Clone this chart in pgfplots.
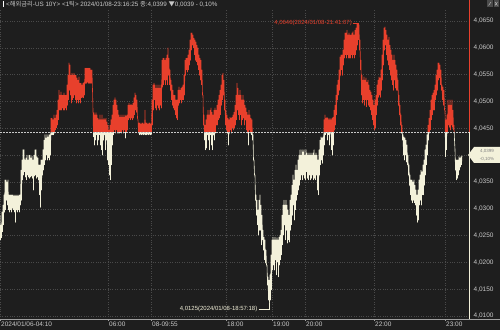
\documentclass[border=0pt]{standalone}
\usepackage{fontspec}
\setmainfont{Liberation Sans}
\newfontfamily\kr{Noto Sans CJK KR}
\usepackage{pgfplots}
\usepackage{pgfplotstable}
\pgfplotsset{compat=1.18}
\definecolor{bg}{HTML}{1E1E1E}
\definecolor{upred}{HTML}{E8402C}
\definecolor{cream}{HTML}{F3F1DA}
\definecolor{gridc}{HTML}{4A4A4A}
\definecolor{txt}{HTML}{C8C8C8}
\definecolor{axln}{HTML}{A0A0A0}

\pgfplotstableread[row sep=\\]{x y\\
0 4.0288\\0.5 4.0242\\1 4.0270\\1.5 4.0246\\2 4.0294\\2.5 4.0257\\3 4.0307\\3.5 4.0270\\4 4.0326\\4.5 4.0294\\
5 4.0354\\5.5 4.0298\\6 4.0354\\6.5 4.0316\\7 4.0350\\7.5 4.0307\\8 4.0354\\8.5 4.0298\\9 4.0326\\9.5 4.0294\\
10 4.0326\\10.5 4.0298\\11 4.0326\\11.5 4.0294\\12 4.0326\\12.5 4.0301\\13 4.0326\\13.5 4.0298\\14 4.0324\\14.5 4.0294\\
15 4.0326\\15.5 4.0275\\16 4.0324\\16.5 4.0298\\17 4.0326\\17.5 4.0294\\18 4.0324\\18.5 4.0298\\19 4.0326\\19.5 4.0294\\
20 4.0326\\20.5 4.0307\\21 4.0372\\21.5 4.0316\\22 4.0391\\22.5 4.0354\\23 4.0410\\23.5 4.0363\\24 4.0410\\24.5 4.0369\\
25 4.0391\\25.5 4.0359\\26 4.0395\\26.5 4.0354\\27 4.0400\\27.5 4.0363\\28 4.0391\\28.5 4.0359\\29 4.0400\\29.5 4.0357\\
30 4.0400\\30.5 4.0359\\31 4.0395\\31.5 4.0361\\32 4.0398\\32.5 4.0357\\33 4.0391\\33.5 4.0335\\34 4.0400\\34.5 4.0361\\
35 4.0410\\35.5 4.0363\\36 4.0410\\36.5 4.0357\\37 4.0397\\37.5 4.0359\\38 4.0395\\38.5 4.0354\\39 4.0382\\39.5 4.0326\\
40 4.0382\\40.5 4.0303\\41 4.0391\\41.5 4.0335\\42 4.0391\\42.5 4.0363\\43 4.0410\\43.5 4.0372\\44 4.0428\\44.5 4.0382\\
45 4.0438\\45.5 4.0391\\46 4.0432\\46.5 4.0400\\47 4.0438\\47.5 4.0391\\48 4.0434\\48.5 4.0395\\49 4.0438\\49.5 4.0391\\
50 4.0438\\50.5 4.0400\\51 4.0469\\51.5 4.0438\\52 4.0469\\52.5 4.0438\\53 4.0466\\53.5 4.0438\\54 4.0475\\54.5 4.0441\\
55 4.0469\\55.5 4.0447\\56 4.0475\\56.5 4.0451\\57 4.0484\\57.5 4.0456\\58 4.0503\\58.5 4.0466\\59 4.0521\\59.5 4.0484\\
60 4.0512\\60.5 4.0484\\61 4.0518\\61.5 4.0484\\62 4.0512\\62.5 4.0488\\63 4.0512\\63.5 4.0484\\64 4.0516\\64.5 4.0484\\
65 4.0512\\65.5 4.0488\\66 4.0512\\66.5 4.0484\\67 4.0531\\67.5 4.0493\\68 4.0549\\68.5 4.0503\\69 4.0572\\69.5 4.0521\\
70 4.0568\\70.5 4.0512\\71 4.0549\\71.5 4.0497\\72 4.0553\\72.5 4.0503\\73 4.0549\\73.5 4.0507\\74 4.0553\\74.5 4.0512\\
75 4.0549\\75.5 4.0503\\76 4.0549\\76.5 4.0497\\77 4.0544\\77.5 4.0503\\78 4.0540\\78.5 4.0497\\79 4.0546\\79.5 4.0503\\
80 4.0534\\80.5 4.0497\\81 4.0534\\81.5 4.0507\\82 4.0531\\82.5 4.0508\\83 4.0534\\83.5 4.0507\\84 4.0536\\84.5 4.0512\\
85 4.0562\\85.5 4.0534\\86 4.0562\\86.5 4.0534\\87 4.0562\\87.5 4.0536\\88 4.0562\\88.5 4.0534\\89 4.0562\\89.5 4.0534\\
90 4.0562\\90.5 4.0534\\91 4.0559\\91.5 4.0534\\92 4.0559\\92.5 4.0521\\93 4.0484\\93.5 4.0434\\94 4.0479\\94.5 4.0419\\
95 4.0475\\95.5 4.0428\\96 4.0479\\96.5 4.0438\\97 4.0475\\97.5 4.0419\\98 4.0469\\98.5 4.0428\\99 4.0466\\99.5 4.0438\\
100 4.0475\\100.5 4.0419\\101 4.0466\\101.5 4.0410\\102 4.0475\\102.5 4.0400\\103 4.0466\\103.5 4.0428\\104 4.0469\\104.5 4.0438\\
105 4.0466\\105.5 4.0410\\106 4.0469\\106.5 4.0428\\107 4.0462\\107.5 4.0391\\108 4.0456\\108.5 4.0382\\109 4.0447\\109.5 4.0363\\
110 4.0456\\110.5 4.0354\\111 4.0466\\111.5 4.0382\\112 4.0475\\112.5 4.0419\\113 4.0493\\113.5 4.0438\\114 4.0503\\114.5 4.0447\\
115 4.0507\\115.5 4.0441\\116 4.0503\\116.5 4.0447\\117 4.0493\\117.5 4.0441\\118 4.0484\\118.5 4.0441\\119 4.0475\\119.5 4.0441\\
120 4.0471\\120.5 4.0443\\121 4.0475\\121.5 4.0441\\122 4.0471\\122.5 4.0447\\123 4.0475\\123.5 4.0441\\124 4.0471\\124.5 4.0447\\
125 4.0475\\125.5 4.0432\\126 4.0473\\126.5 4.0443\\127 4.0475\\127.5 4.0447\\128 4.0493\\128.5 4.0466\\129 4.0497\\129.5 4.0469\\
130 4.0493\\130.5 4.0466\\131 4.0495\\131.5 4.0469\\132 4.0493\\132.5 4.0466\\133 4.0497\\133.5 4.0469\\134 4.0507\\134.5 4.0475\\
135 4.0516\\135.5 4.0484\\136 4.0512\\136.5 4.0480\\137 4.0503\\137.5 4.0469\\138 4.0466\\138.5 4.0441\\139 4.0460\\139.5 4.0438\\
140 4.0460\\140.5 4.0439\\141 4.0458\\141.5 4.0438\\142 4.0460\\142.5 4.0439\\143 4.0460\\143.5 4.0438\\144 4.0458\\144.5 4.0439\\
145 4.0484\\145.5 4.0438\\146 4.0460\\146.5 4.0438\\147 4.0460\\147.5 4.0439\\148 4.0458\\148.5 4.0438\\149 4.0460\\149.5 4.0439\\
150 4.0460\\150.5 4.0438\\151 4.0458\\151.5 4.0439\\152 4.0503\\152.5 4.0456\\153 4.0531\\153.5 4.0484\\154 4.0534\\154.5 4.0503\\
155 4.0531\\155.5 4.0488\\156 4.0525\\156.5 4.0484\\157 4.0531\\157.5 4.0493\\158 4.0525\\158.5 4.0488\\159 4.0531\\159.5 4.0484\\
160 4.0525\\160.5 4.0493\\161 4.0531\\161.5 4.0488\\162 4.0577\\162.5 4.0527\\163 4.0581\\163.5 4.0531\\164 4.0581\\164.5 4.0540\\
165 4.0577\\165.5 4.0531\\166 4.0581\\166.5 4.0540\\167 4.0587\\167.5 4.0531\\168 4.0600\\168.5 4.0549\\169 4.0581\\169.5 4.0531\\
170 4.0559\\170.5 4.0521\\171 4.0540\\171.5 4.0503\\172 4.0531\\172.5 4.0493\\173 4.0521\\173.5 4.0488\\174 4.0512\\174.5 4.0484\\
175 4.0512\\175.5 4.0475\\176 4.0503\\176.5 4.0469\\177 4.0503\\177.5 4.0466\\178 4.0521\\178.5 4.0493\\179 4.0527\\179.5 4.0497\\
180 4.0521\\180.5 4.0503\\181 4.0525\\181.5 4.0497\\182 4.0527\\182.5 4.0503\\183 4.0531\\183.5 4.0503\\184 4.0549\\184.5 4.0512\\
185 4.0577\\185.5 4.0549\\186 4.0581\\186.5 4.0559\\187 4.0581\\187.5 4.0555\\188 4.0587\\188.5 4.0559\\189 4.0596\\189.5 4.0568\\
190 4.0615\\190.5 4.0577\\191 4.0628\\191.5 4.0596\\192 4.0628\\192.5 4.0605\\193 4.0624\\193.5 4.0600\\194 4.0618\\194.5 4.0587\\
195 4.0615\\195.5 4.0577\\196 4.0611\\196.5 4.0574\\197 4.0605\\197.5 4.0568\\198 4.0600\\198.5 4.0559\\199 4.0587\\199.5 4.0549\\
200 4.0581\\200.5 4.0540\\201 4.0577\\201.5 4.0531\\202 4.0559\\202.5 4.0512\\203 4.0512\\203.5 4.0456\\204 4.0475\\204.5 4.0428\\
205 4.0456\\205.5 4.0410\\206 4.0466\\206.5 4.0413\\207 4.0475\\207.5 4.0438\\208 4.0484\\208.5 4.0428\\209 4.0475\\209.5 4.0410\\
210 4.0484\\210.5 4.0438\\211 4.0488\\211.5 4.0419\\212 4.0480\\212.5 4.0410\\213 4.0475\\213.5 4.0438\\214 4.0484\\214.5 4.0428\\
215 4.0488\\215.5 4.0441\\216 4.0484\\216.5 4.0456\\217 4.0493\\217.5 4.0456\\218 4.0503\\218.5 4.0466\\219 4.0512\\219.5 4.0469\\
220 4.0521\\220.5 4.0475\\221 4.0531\\221.5 4.0493\\222 4.0549\\222.5 4.0503\\223 4.0553\\223.5 4.0512\\224 4.0540\\224.5 4.0484\\
225 4.0503\\225.5 4.0456\\226 4.0484\\226.5 4.0447\\227 4.0475\\227.5 4.0441\\228 4.0469\\228.5 4.0419\\229 4.0466\\229.5 4.0441\\
230 4.0471\\230.5 4.0447\\231 4.0469\\231.5 4.0441\\232 4.0471\\232.5 4.0451\\233 4.0475\\233.5 4.0447\\234 4.0480\\234.5 4.0451\\
235 4.0493\\235.5 4.0456\\236 4.0512\\236.5 4.0466\\237 4.0534\\237.5 4.0484\\238 4.0525\\238.5 4.0475\\239 4.0512\\239.5 4.0466\\
240 4.0521\\240.5 4.0475\\241 4.0512\\241.5 4.0456\\242 4.0503\\242.5 4.0466\\243 4.0512\\243.5 4.0469\\244 4.0503\\244.5 4.0456\\
245 4.0493\\245.5 4.0466\\246 4.0488\\246.5 4.0447\\247 4.0480\\247.5 4.0441\\248 4.0475\\248.5 4.0419\\249 4.0484\\249.5 4.0447\\
250 4.0475\\250.5 4.0441\\251 4.0469\\251.5 4.0438\\252 4.0466\\252.5 4.0428\\253 4.0438\\253.5 4.0391\\254 4.0391\\254.5 4.0363\\
255 4.0363\\255.5 4.0316\\256 4.0326\\256.5 4.0288\\257 4.0316\\257.5 4.0270\\258 4.0298\\258.5 4.0251\\259 4.0316\\259.5 4.0260\\
260 4.0326\\260.5 4.0260\\261 4.0307\\261.5 4.0233\\262 4.0288\\262.5 4.0242\\263 4.0260\\263.5 4.0223\\264 4.0247\\264.5 4.0205\\
265 4.0242\\265.5 4.0199\\266 4.0223\\266.5 4.0195\\267 4.0195\\267.5 4.0158\\268 4.0173\\268.5 4.0130\\269 4.0167\\269.5 4.0125\\
270 4.0177\\270.5 4.0130\\271 4.0214\\271.5 4.0149\\272 4.0242\\272.5 4.0186\\273 4.0247\\273.5 4.0195\\274 4.0242\\274.5 4.0186\\
275 4.0247\\275.5 4.0205\\276 4.0242\\276.5 4.0177\\277 4.0246\\277.5 4.0201\\278 4.0242\\278.5 4.0173\\279 4.0247\\279.5 4.0195\\
280 4.0251\\280.5 4.0205\\281 4.0260\\281.5 4.0214\\282 4.0288\\282.5 4.0233\\283 4.0307\\283.5 4.0251\\284 4.0316\\284.5 4.0270\\
285 4.0307\\285.5 4.0242\\286 4.0316\\286.5 4.0260\\287 4.0307\\287.5 4.0236\\288 4.0298\\288.5 4.0242\\289 4.0288\\289.5 4.0238\\
290 4.0316\\290.5 4.0260\\291 4.0326\\291.5 4.0270\\292 4.0344\\292.5 4.0288\\293 4.0363\\293.5 4.0307\\294 4.0354\\294.5 4.0279\\
295 4.0372\\295.5 4.0298\\296 4.0382\\296.5 4.0316\\297 4.0372\\297.5 4.0326\\298 4.0391\\298.5 4.0335\\299 4.0400\\299.5 4.0344\\
300 4.0410\\300.5 4.0354\\301 4.0400\\301.5 4.0363\\302 4.0410\\302.5 4.0354\\303 4.0406\\303.5 4.0363\\304 4.0410\\304.5 4.0357\\
305 4.0400\\305.5 4.0354\\306 4.0410\\306.5 4.0369\\307 4.0404\\307.5 4.0357\\308 4.0400\\308.5 4.0354\\309 4.0404\\309.5 4.0363\\
310 4.0400\\310.5 4.0354\\311 4.0404\\311.5 4.0357\\312 4.0400\\312.5 4.0363\\313 4.0404\\313.5 4.0354\\314 4.0410\\314.5 4.0357\\
315 4.0400\\315.5 4.0354\\316 4.0404\\316.5 4.0363\\317 4.0400\\317.5 4.0335\\318 4.0391\\318.5 4.0326\\319 4.0410\\319.5 4.0363\\
320 4.0428\\320.5 4.0382\\321 4.0434\\321.5 4.0391\\322 4.0432\\322.5 4.0385\\323 4.0434\\323.5 4.0400\\324 4.0466\\324.5 4.0419\\
325 4.0475\\325.5 4.0438\\326 4.0469\\326.5 4.0441\\327 4.0471\\327.5 4.0428\\328 4.0469\\328.5 4.0438\\329 4.0466\\329.5 4.0419\\
330 4.0469\\330.5 4.0441\\331 4.0466\\331.5 4.0410\\332 4.0469\\332.5 4.0400\\333 4.0471\\333.5 4.0419\\334 4.0484\\334.5 4.0447\\
335 4.0493\\335.5 4.0456\\336 4.0512\\336.5 4.0475\\337 4.0531\\337.5 4.0503\\338 4.0540\\338.5 4.0512\\339 4.0559\\339.5 4.0521\\
340 4.0583\\340.5 4.0549\\341 4.0587\\341.5 4.0559\\342 4.0587\\342.5 4.0549\\343 4.0596\\343.5 4.0568\\344 4.0615\\344.5 4.0581\\
345 4.0628\\345.5 4.0587\\346 4.0628\\346.5 4.0581\\347 4.0633\\347.5 4.0587\\348 4.0624\\348.5 4.0581\\349 4.0628\\349.5 4.0581\\
350 4.0624\\350.5 4.0581\\351 4.0624\\351.5 4.0587\\352 4.0628\\352.5 4.0581\\353 4.0630\\353.5 4.0587\\354 4.0624\\354.5 4.0581\\
355 4.0633\\355.5 4.0587\\356 4.0637\\356.5 4.0596\\357 4.0646\\357.5 4.0605\\358 4.0644\\358.5 4.0615\\359 4.0643\\359.5 4.0596\\
360 4.0615\\360.5 4.0559\\361 4.0577\\361.5 4.0512\\362 4.0549\\362.5 4.0497\\363 4.0540\\363.5 4.0503\\364 4.0546\\364.5 4.0493\\
365 4.0540\\365.5 4.0503\\366 4.0544\\366.5 4.0490\\367 4.0536\\367.5 4.0503\\368 4.0540\\368.5 4.0493\\369 4.0531\\369.5 4.0490\\
370 4.0521\\370.5 4.0484\\371 4.0518\\371.5 4.0475\\372 4.0512\\372.5 4.0466\\373 4.0503\\373.5 4.0456\\374 4.0493\\374.5 4.0447\\
375 4.0503\\375.5 4.0451\\376 4.0512\\376.5 4.0475\\377 4.0531\\377.5 4.0493\\378 4.0540\\378.5 4.0508\\379 4.0546\\379.5 4.0512\\
380 4.0544\\380.5 4.0508\\381 4.0559\\381.5 4.0521\\382 4.0587\\382.5 4.0540\\383 4.0615\\383.5 4.0568\\384 4.0637\\384.5 4.0596\\
385 4.0639\\385.5 4.0605\\386 4.0633\\386.5 4.0587\\387 4.0624\\387.5 4.0577\\388 4.0615\\388.5 4.0568\\389 4.0620\\389.5 4.0559\\
390 4.0605\\390.5 4.0549\\391 4.0596\\391.5 4.0540\\392 4.0587\\392.5 4.0531\\393 4.0577\\393.5 4.0521\\394 4.0587\\394.5 4.0540\\
395 4.0577\\395.5 4.0525\\396 4.0568\\396.5 4.0521\\397 4.0559\\397.5 4.0521\\398 4.0540\\398.5 4.0493\\399 4.0512\\399.5 4.0475\\
400 4.0493\\400.5 4.0456\\401 4.0475\\401.5 4.0441\\402 4.0456\\402.5 4.0428\\403 4.0438\\403.5 4.0400\\404 4.0434\\404.5 4.0391\\
405 4.0432\\405.5 4.0400\\406 4.0428\\406.5 4.0387\\407 4.0419\\407.5 4.0382\\408 4.0400\\408.5 4.0363\\409 4.0382\\409.5 4.0344\\
410 4.0363\\410.5 4.0326\\411 4.0354\\411.5 4.0316\\412 4.0354\\412.5 4.0311\\413 4.0350\\413.5 4.0316\\414 4.0354\\414.5 4.0311\\
415 4.0344\\415.5 4.0307\\416 4.0335\\416.5 4.0288\\417 4.0326\\417.5 4.0275\\418 4.0335\\418.5 4.0279\\419 4.0354\\419.5 4.0307\\
420 4.0363\\420.5 4.0316\\421 4.0372\\421.5 4.0307\\422 4.0369\\422.5 4.0326\\423 4.0382\\423.5 4.0326\\424 4.0391\\424.5 4.0344\\
425 4.0410\\425.5 4.0363\\426 4.0419\\426.5 4.0382\\427 4.0438\\427.5 4.0400\\428 4.0456\\428.5 4.0428\\429 4.0469\\429.5 4.0441\\
430 4.0484\\430.5 4.0447\\431 4.0503\\431.5 4.0466\\432 4.0512\\432.5 4.0475\\433 4.0516\\433.5 4.0484\\434 4.0521\\434.5 4.0484\\
435 4.0531\\435.5 4.0503\\436 4.0549\\436.5 4.0512\\437 4.0559\\437.5 4.0521\\438 4.0572\\438.5 4.0540\\439 4.0572\\439.5 4.0544\\
440 4.0568\\440.5 4.0531\\441 4.0559\\441.5 4.0521\\442 4.0531\\442.5 4.0503\\443 4.0527\\443.5 4.0493\\444 4.0521\\444.5 4.0484\\
445 4.0484\\445.5 4.0397\\446 4.0466\\446.5 4.0410\\447 4.0475\\447.5 4.0441\\448 4.0503\\448.5 4.0456\\449 4.0493\\449.5 4.0452\\
450 4.0503\\450.5 4.0447\\451 4.0493\\451.5 4.0456\\452 4.0503\\452.5 4.0452\\453 4.0484\\453.5 4.0447\\454 4.0456\\454.5 4.0428\\
455 4.0410\\455.5 4.0372\\456 4.0391\\456.5 4.0354\\457 4.0391\\457.5 4.0357\\458 4.0391\\458.5 4.0363\\459 4.0397\\459.5 4.0372\\
460 4.0395\\460.5 4.0378\\461 4.0397\\461.5 4.0382\\462 4.0399\\
}\pricedata

\begin{document}
\begin{tikzpicture}
\useasboundingbox (0,0) rectangle (500bp,330bp);
\fill[bg] (0,0) rectangle (500bp,330bp);
\begin{axis}[
  at={(0,11bp)}, anchor=south west,
  scale only axis, width=469bp, height=309bp,
  xmin=0, xmax=469, ymin=4.00946, ymax=4.06706,
  axis line style={draw=none},
  xtick={0,108,151,226,272,305,374,445},
  xticklabels={2024/01/06-04:10,06:00,08-09:55,18:00,19:00,20:00,22:00,23:00},
  ytick={4.010,4.015,4.020,4.025,4.030,4.035,4.045,4.050,4.055,4.060,4.065},
  extra y ticks={4.040},
  extra y tick labels={},
  extra y tick style={grid=major, ytick style={draw=none}},
  yticklabel pos=right,
  xtick pos=bottom,
  scaled y ticks=false,
  xmajorgrids, ymajorgrids,
  grid style={gridc, dotted, line width=0.5bp},
  major tick length=2bp,
  tick align=outside,
  ytick style={draw=none},
  xtick style={axln, line width=0.5bp},
  tick label style={font=\fontsize{6.5}{7}\selectfont, text=txt},
  xticklabel style={anchor=north west, inner xsep=1bp, inner ysep=1bp},
  yticklabel style={anchor=west, inner xsep=2.5bp,
    /pgf/number format/fixed, /pgf/number format/fixed zerofill,
    /pgf/number format/precision=4, /pgf/number format/use comma,
    /pgf/number format/assume math mode=true},
  clip mode=individual,
]
\begin{scope}
\clip (axis cs:-5,4.0443) rectangle (axis cs:475,4.0700);
\addplot[upred, line width=0.6bp, line join=round, no marks] table[x=x,y=y]{\pricedata};
\end{scope}
\begin{scope}
\clip (axis cs:-5,4.0000) rectangle (axis cs:475,4.0443);
\addplot[cream, line width=0.6bp, line join=round, no marks] table[x=x,y=y]{\pricedata};
\end{scope}
\draw[txt, dash pattern=on 1.5bp off 1.5bp, line width=0.5bp] (axis cs:0,4.0443) -- (axis cs:469,4.0443);
\draw[upred, line width=1bp] (axis cs:469,4.0443) -- (axis cs:469,4.0689);
\draw[cream, line width=1bp] (axis cs:469,4.00946) -- (axis cs:469,4.0443);
% max / min annotations
\node[anchor=east, inner sep=0.5bp, text=upred, font=\fontsize{6}{6}\selectfont] at (axis cs:352.5,4.0646) {4,0646(2024/01/08-21:41:07)};
\draw[upred, line width=0.5bp] (axis cs:353,4.0646) -- (axis cs:358,4.0646) -- (axis cs:358,4.0640);
\node[anchor=east, inner sep=0.5bp, text=cream, font=\fontsize{6}{6}\selectfont] at (axis cs:258,4.0113) {4,0125(2024/01/08-18:57:18)};
\draw[cream, line width=0.5bp] (axis cs:258.5,4.0113) -- (axis cs:269,4.0113) -- (axis cs:269,4.0124);
\end{axis}
% bottom axis line
\draw[axln, line width=0.6bp] (0,11bp) -- (500bp,11bp);
% header
\fill[white] (2.5bp,322.5bp) rectangle (4bp,328.5bp);
\node[anchor=west, inner sep=0, text=txt, font=\fontsize{6.3}{7}\selectfont] at (6bp,325.5bp)
  {<{\kr 해외금리}-US 10Y> <1{\kr 틱}> 2024/01/08-23:16:25 {\kr 종}:4,0399 {\kr ▼}0,0039 - 0,10\%};
% window icons
\fill[gridc] (487bp,323bp) rectangle (492.5bp,329.5bp);
\fill[gridc] (493.5bp,323bp) rectangle (499bp,329.5bp);
\draw[txt, line width=0.4bp] (488.5bp,324.5bp) -- (491bp,328bp) (495bp,324.5bp) -- (497.5bp,328bp) (495bp,328bp) -- (497.5bp,324.5bp);
% current price tag
\fill[cream] (468bp,175bp) -- (474bp,183bp) -- (500bp,183bp) -- (500bp,167bp) -- (474bp,167bp) -- cycle;
\node[text=gray, font=\fontsize{4.5}{4.5}\selectfont, inner sep=0] at (487bp,179bp) {4,0399};
\node[text=gray, font=\fontsize{4.5}{4.5}\selectfont, inner sep=0] at (487bp,171bp) {-0,10\%};
\end{tikzpicture}
\end{document}
